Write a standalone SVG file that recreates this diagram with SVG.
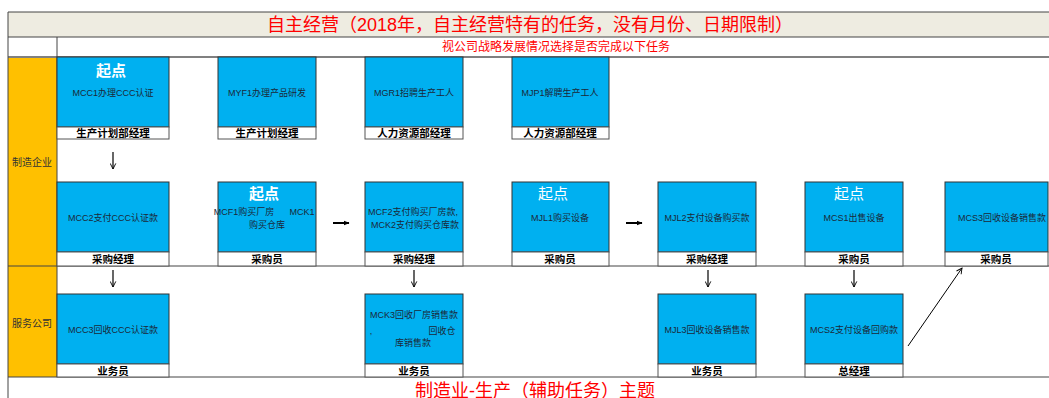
<svg xmlns="http://www.w3.org/2000/svg" width="1049" height="398" viewBox="0 0 1049 398">
<style>
text{font-family:"Liberation Sans","Noto Sans CJK SC",sans-serif;text-anchor:middle;dominant-baseline:central}
.blue{fill:#00B0F0;stroke:#333;stroke-width:1}
.lbl{fill:#fff;stroke:#555;stroke-width:1}
.t{font-size:9px;fill:#1b2838}
.lt{font-size:10.5px;font-weight:bold;fill:#000}
.qd{font-size:15px;fill:#fff}
.qdb{font-weight:bold}
.grid{stroke:#444;stroke-width:1;fill:none}
.red{fill:#FF0000}
.side{font-size:10px;fill:#333}
.conn line,.conn path{stroke:#000;fill:none}
</style>
<defs>
<marker id="ah" viewBox="0 0 10 10" refX="9" refY="5" markerWidth="7" markerHeight="7" orient="auto" markerUnits="userSpaceOnUse">
<path d="M1,1 L9,5 L1,9" fill="none" stroke="#000" stroke-width="1.3"/>
</marker>
<marker id="ahb" viewBox="0 0 10 10" refX="9" refY="5" markerWidth="6" markerHeight="6" orient="auto" markerUnits="userSpaceOnUse">
<path d="M0,1 L10,5 L0,9 Z" fill="#000"/>
</marker>
</defs>
<!-- frame -->
<g id="frame">
<rect x="8" y="12" width="1041" height="25" fill="#EEECE1"/>
<rect x="8" y="57" width="49" height="320" fill="#FFC000"/>
<line class="grid" x1="8" y1="12" x2="1049" y2="12"/>
<line class="grid" x1="8" y1="37" x2="1049" y2="37"/>
<line x1="8" y1="57" x2="1049" y2="57" stroke="#808080" stroke-width="2"/>
<line class="grid" x1="8" y1="266" x2="1049" y2="266"/>
<line class="grid" x1="8" y1="377" x2="1049" y2="377"/>
<line class="grid" x1="8" y1="12" x2="8" y2="398"/>
<line class="grid" x1="57" y1="37" x2="57" y2="377"/>
<text class="red" x="530" y="25" font-size="18">自主经营（2018年，自主经营特有的任务，没有月份、日期限制）</text>
<text class="red" x="556" y="47" font-size="12">视公司战略发展情况选择是否完成以下任务</text>
<text class="side" x="32" y="162">制造企业</text>
<text class="side" x="32" y="323">服务公司</text>
<text class="red" x="535" y="391" font-size="18">制造业-生产（辅助任务）主题</text>
</g>
<!-- row 1 -->
<g id="MCC1">
<rect class="blue" x="57" y="57" width="112" height="70"/>
<rect class="lbl" x="57" y="127" width="112" height="12"/>
<text class="qd qdb" x="111" y="70">起点</text>
<text class="t" x="113" y="93">MCC1办理CCC认证</text>
<text class="lt" x="113" y="133">生产计划部经理</text>
</g>
<g id="MYF1">
<rect class="blue" x="218" y="57" width="98" height="70"/>
<rect class="lbl" x="218" y="127" width="98" height="12"/>
<text class="t" x="267" y="93">MYF1办理产品研发</text>
<text class="lt" x="267" y="133">生产计划经理</text>
</g>
<g id="MGR1">
<rect class="blue" x="365" y="57" width="98" height="70"/>
<rect class="lbl" x="365" y="127" width="98" height="12"/>
<text class="t" x="414" y="93">MGR1招聘生产工人</text>
<text class="lt" x="414" y="133">人力资源部经理</text>
</g>
<g id="MJP1">
<rect class="blue" x="512" y="57" width="97" height="70"/>
<rect class="lbl" x="512" y="127" width="97" height="12"/>
<text class="t" x="560" y="93">MJP1解聘生产工人</text>
<text class="lt" x="560" y="133">人力资源部经理</text>
</g>
<!-- row 2 -->
<g id="MCC2">
<rect class="blue" x="57" y="182" width="112" height="70"/>
<rect class="lbl" x="57" y="252" width="112" height="14"/>
<text class="t" x="113" y="218">MCC2支付CCC认证款</text>
<text class="lt" x="113" y="259">采购经理</text>
</g>
<g id="MCF1">
<rect class="blue" x="218" y="182" width="98" height="70"/>
<rect class="lbl" x="218" y="252" width="98" height="14"/>
<text class="qd qdb" x="264" y="193">起点</text>
<text class="t" x="244" y="212">MCF1购买厂房</text>
<text class="t" x="302" y="212">MCK1</text>
<text class="t" x="267" y="225">购买仓库</text>
<text class="lt" x="267" y="259">采购员</text>
</g>
<g id="MCF2">
<rect class="blue" x="365" y="182" width="98" height="70"/>
<rect class="lbl" x="365" y="252" width="98" height="14"/>
<text class="t" x="413" y="212">MCF2支付购买厂房款,</text>
<text class="t" x="415" y="225">MCK2支付购买仓库款</text>
<text class="lt" x="414" y="259">采购经理</text>
</g>
<g id="MJL1">
<rect class="blue" x="512" y="182" width="97" height="70"/>
<rect class="lbl" x="512" y="252" width="97" height="14"/>
<text class="qd" x="553" y="193">起点</text>
<text class="t" x="560" y="218">MJL1购买设备</text>
<text class="lt" x="560" y="259">采购员</text>
</g>
<g id="MJL2">
<rect class="blue" x="658" y="182" width="98" height="70"/>
<rect class="lbl" x="658" y="252" width="98" height="14"/>
<text class="t" x="707" y="218">MJL2支付设备购买款</text>
<text class="lt" x="707" y="259">采购经理</text>
</g>
<g id="MCS1">
<rect class="blue" x="805" y="182" width="98" height="70"/>
<rect class="lbl" x="805" y="252" width="98" height="14"/>
<text class="qd" x="849" y="193">起点</text>
<text class="t" x="854" y="218">MCS1出售设备</text>
<text class="lt" x="854" y="259">采购员</text>
</g>
<g id="MCS3">
<rect class="blue" x="945" y="182" width="103" height="70"/>
<rect class="lbl" x="945" y="252" width="103" height="14"/>
<text class="t" x="1002" y="218">MCS3回收设备销售款</text>
<text class="lt" x="996" y="259">采购员</text>
</g>
<!-- row 3 -->
<g id="MCC3">
<rect class="blue" x="57" y="294" width="112" height="70"/>
<rect class="lbl" x="57" y="364" width="112" height="13"/>
<text class="t" x="113" y="330">MCC3回收CCC认证款</text>
<text class="lt" x="113" y="371">业务员</text>
</g>
<g id="MCK3">
<rect class="blue" x="365" y="294" width="98" height="70"/>
<rect class="lbl" x="365" y="364" width="98" height="13"/>
<text class="t" x="414" y="315">MCK3回收厂房销售款</text>
<text class="t" x="371" y="331">,</text>
<text class="t" x="442" y="331">回收仓</text>
<text class="t" x="413" y="343">库销售款</text>
<text class="lt" x="414" y="371">业务员</text>
</g>
<g id="MJL3">
<rect class="blue" x="658" y="294" width="98" height="70"/>
<rect class="lbl" x="658" y="364" width="98" height="13"/>
<text class="t" x="707" y="330">MJL3回收设备销售款</text>
<text class="lt" x="707" y="371">业务员</text>
</g>
<g id="MCS2">
<rect class="blue" x="805" y="294" width="98" height="70"/>
<rect class="lbl" x="805" y="364" width="98" height="13"/>
<text class="t" x="854" y="330">MCS2支付设备回购款</text>
<text class="lt" x="854" y="371">总经理</text>
</g>
<!-- connectors -->
<g id="connectors" class="conn">
<line x1="113" y1="152" x2="113" y2="169" stroke-width="1.2" marker-end="url(#ah)"/>
<line x1="333" y1="223" x2="349" y2="223" stroke-width="2" marker-end="url(#ahb)"/>
<line x1="626" y1="223" x2="642" y2="223" stroke-width="2" marker-end="url(#ahb)"/>
<line x1="113" y1="270" x2="113" y2="287" stroke-width="1.2" marker-end="url(#ah)"/>
<line x1="414" y1="270" x2="414" y2="287" stroke-width="1.2" marker-end="url(#ah)"/>
<line x1="708" y1="270" x2="708" y2="287" stroke-width="1.2" marker-end="url(#ah)"/>
<line x1="854" y1="270" x2="854" y2="287" stroke-width="1.2" marker-end="url(#ah)"/>
<line x1="908" y1="346" x2="962" y2="268" stroke-width="1" marker-end="url(#ah)"/>
</g>
</svg>
